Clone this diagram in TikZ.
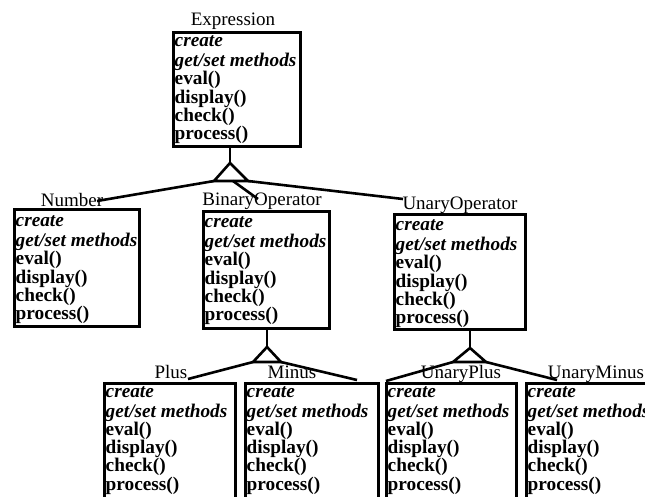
\documentclass[tikz,border=0pt]{standalone}
\usepackage{fontspec}
\setmainfont{Liberation Serif}
\newcommand\opsfont{\fontsize{19.3}{18.3}\selectfont\bfseries}
\newcommand\lblfont{\fontsize{19}{20}\selectfont}
\newcommand\opslist{\strut\itshape create\\\itshape get/set methods\\eval()\\display()\\check()\\process()}
% #1 name, #2 x1, #3 y1, #4 x2, #5 y2, #6 label x, #7 label baseline, #8 label, #9 first baseline
\newcommand\umlclass[9]{%
  \node[clsbox, minimum width={#4-#2}, minimum height={#5-#3}] (#1) at (#2,#3) {};
  \node[opstext] (#1-t) at ({#2+2.5},{#9-12.81}) {\opslist};
  \node[lbl] (#1-l) at (#6,#7) {#8};
}
\tikzset{
  clsbox/.style={draw, line width=2.6pt, inner sep=0pt, anchor=north west},
  opstext/.style={anchor=north west, inner sep=0pt, align=left, font=\opsfont},
  lbl/.style={anchor=base, inner sep=0pt, font=\lblfont},
  conn/.style={line width=2.6pt, line join=miter},
}
\begin{document}
\begin{tikzpicture}[x=1pt, y=-1pt]
\useasboundingbox (0,0) rectangle (645,496);
\clip (0,0) rectangle (645,496);
\fill[white] (0,0) rectangle (645,496);

\umlclass{expr}{172}{31}{299}{145}{233}{25.5}{Expression}{46.5}
\umlclass{num}{13}{208}{138}{325}{72}{206}{Number}{226.5}
\umlclass{bin}{202}{210}{328}{327}{262}{205}{BinaryOperator}{227.5}
\umlclass{una}{393}{213}{524}{328}{460}{209}{UnaryOperator}{230.5}
\umlclass{plus}{103}{382}{234}{505}{171}{378}{Plus}{397}
\umlclass{minus}{244}{382}{377}{505}{292}{378}{Minus}{397}
\umlclass{uplus}{385}{382}{515}{505}{461}{378}{UnaryPlus}{397}
\umlclass{uminus}{525}{382}{665}{505}{596}{378}{UnaryMinus}{397}

% inheritance triangle 1
\coordinate (t1a) at (230,163);
\coordinate (t1l) at (214,181);
\coordinate (t1r) at (248,181);
\coordinate (t1m) at (233,181);
\coordinate (e-num) at (97,201);
\coordinate (e-bin) at (258,199);
\coordinate (e-una) at (403,199);
\draw[conn] (t1a |- expr.south) -- (t1a);
\draw[conn] (t1a) -- (t1l) -- (t1r) -- cycle;
\draw[conn] (t1l) -- (e-num);
\draw[conn] (t1m) -- (e-bin);
\draw[conn] (t1r) -- (e-una);

% inheritance triangle 2
\coordinate (t2a) at (267,347);
\coordinate (t2l) at (253,362);
\coordinate (t2r) at (281,362);
\coordinate (e-plus) at (188,379);
\coordinate (e-minus) at (357,380);
\draw[conn] (t2a |- bin.south) -- (t2a);
\draw[conn] (t2a) -- (t2l) -- (t2r) -- cycle;
\draw[conn] (t2l) -- (e-plus);
\draw[conn] (t2r) -- (e-minus);

% inheritance triangle 3
\coordinate (t3a) at (470,348);
\coordinate (t3l) at (453,362);
\coordinate (t3r) at (486,362);
\coordinate (e-uplus) at (386,381);
\coordinate (e-uminus) at (557,380);
\draw[conn] (t3a |- una.south) -- (t3a);
\draw[conn] (t3a) -- (t3l) -- (t3r) -- cycle;
\draw[conn] (t3l) -- (e-uplus);
\draw[conn] (t3r) -- (e-uminus);
\end{tikzpicture}
\end{document}
